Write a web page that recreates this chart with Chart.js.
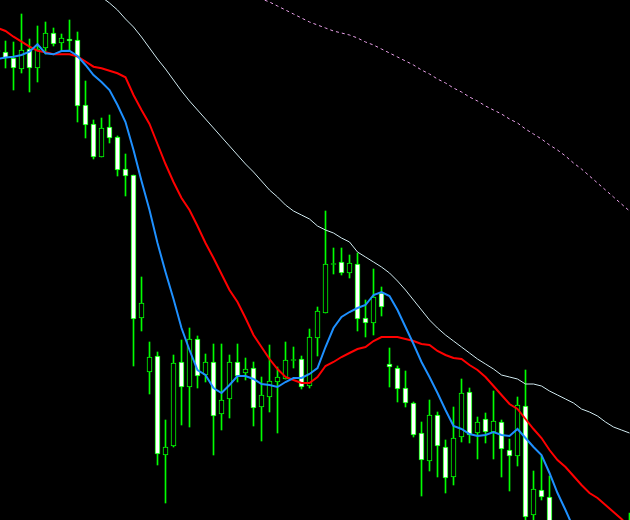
<!DOCTYPE html>
<html>
<head>
<meta charset="utf-8">
<style>
html,body{margin:0;padding:0;background:#000;overflow:hidden;}
#wrap{width:630px;height:520px;}
</style>
<script src="https://cdn.jsdelivr.net/npm/chart.js@4"></script>
</head>
<body>
<div id="wrap"><canvas id="c" width="630" height="520"></canvas></div>
<script>
// Price data (arbitrary price units, one entry per bar; first bar sits just off the left edge)
const openP  = [470,468,462,451,471,452,472,487,477,481,480,415,396,363,393,383,351,345,202,148,164,65,74,158,133,181,145,158,106,121,158,147,152,113,123,138,141,160,161,134,182,207,256,258,247,256,202,197,227,156,152,132,117,87,59,105,73,43,83,128,87,101,88,98,70,64,114,5,30,23,-10,-35,-28,-48,-40,-58,-50,-62,-45,-30];
const highP  = [478,479,478,506,481,494,498,492,486,500,488,439,400,402,405,384,366,345,243,178,168,100,165,180,192,184,166,176,176,165,176,162,158,143,175,153,178,173,164,191,213,309,272,272,265,267,220,251,233,172,154,149,118,98,120,108,80,113,141,132,103,107,129,100,81,123,150,49,64,44,-4,-20,-12,-30,-22,-36,-30,-40,-15,7];
const lowP   = [460,452,430,447,428,438,466,474,469,469,398,382,361,363,377,344,324,154,189,126,55,17,73,95,93,132,138,65,90,102,138,140,94,79,108,87,141,152,131,132,164,207,246,245,242,189,183,185,204,133,118,113,83,24,49,43,27,35,78,77,61,77,61,43,29,54,-8,-4,20,-20,-45,-60,-55,-75,-66,-80,-72,-85,-60,-48];
const closeP = [468,462,452,470,452,471,487,476,482,479,414,395,363,392,382,350,344,201,217,163,66,73,157,133,181,144,158,104,120,158,144,151,112,125,139,143,160,160,133,183,209,256,256,247,257,201,197,223,213,153,131,117,85,60,105,74,42,82,127,85,98,88,99,71,64,115,3,31,23,-8,-35,-28,-48,-40,-58,-50,-62,-45,-30,-12];

// Moving averages
const maBlue = [461,462.5,463.3,465,468.3,475.7,466.7,465.7,469,469.3,464,455,445,438,430,415,398,370,339,310,277,248,221,192,170,150,145,132,127,135,144,144,141,136,135,133,138,142,142,146,152,173,192,203,208,212,215,225,228,224,210,193,176,158,143,127,110,94,91,86,84,85,88,85,84,91,82,73,65,47,27,10,-8,-23,-35,-45,-53,-60,-66,-70];
const maRed  = [492,489,483.3,478.3,473.3,469.3,467.7,465.7,465.7,465.7,463.5,458.5,453.3,451.7,449.3,446.7,442.7,425,410,396,376,356,338,322,310,294,277,262,246,230,218,202,185,173,161,151,143,140,137,137,143,154,158,163,167,171,173,179,183,183,183,181,179,176,175,169,165,162,161,155,150,143,134,125,116,111,101,91,82,70,60,53,44,35,27,22,15,8,1,-7];
const maWhite = [null,null,null,null,null,null,null,null,null,null,null,537,530,523,517,510,501,493,483,472,461,451,440,429,419,410,401,392,383,374,365,356,348,339,330,323,315,309,305,301,294,290,287,282,278,268,263,258,253,247,239,230,220,210,200,192,185,179,173,167,161,156,151,145,143,141,136,136,134,129,125,121,117,111,108,104,98,93,90,87];
const maDotted = [null,null,null,null,null,null,null,null,null,null,null,null,null,null,null,null,null,null,null,null,null,null,null,null,null,null,null,null,null,null,null,null,524,521,518,514,510,506,502,498,495,492,489,487,485,482,478,475,471,467,463,459,455,450,446,441,437,432,428,423,419,414,410,406,401,397,391,386,381,375,370,364,357,351,344,337,330,323,316,309];

const bars = openP.map((_, i) => i);

const GREEN = '#00FF00';
const bodies = bars.map(i => {
  let a = openP[i], b = closeP[i];
  if (a === b) { a = a - 0.5; b = b + 0.5; }
  return {x: i, y: [a, b]};
});
const wicks = bars.map(i => ({x: i, y: [lowP[i], highP[i]]}));
const pts = arr => bars.map(i => ({x: i, y: arr[i]}));

new Chart(document.getElementById('c'), {
  type: 'bar',
  data: {
    datasets: [
      {
        type: 'line', data: pts(maBlue), borderColor: '#1E90FF', borderWidth: 2,
        pointRadius: 0, tension: 0, order: 0
      },
      {
        type: 'line', data: pts(maRed), borderColor: '#FF0000', borderWidth: 2,
        pointRadius: 0, tension: 0, order: 1
      },
      {
        type: 'line', data: pts(maWhite), borderColor: '#CFE8EE', borderWidth: 1,
        pointRadius: 0, tension: 0, order: 2
      },
      {
        type: 'line', data: pts(maDotted), borderColor: '#E8A0E8', borderWidth: 1,
        borderDash: [3, 3], pointRadius: 0, tension: 0, order: 2
      },
      {
        type: 'bar', data: bodies, grouped: false, barThickness: 5,
        borderWidth: 1, borderSkipped: false, borderColor: GREEN,
        backgroundColor: ctx => {
          const i = ctx.dataIndex;
          return closeP[i] < openP[i] ? '#FFFFFF' : '#000000';
        },
        order: 5
      },
      {
        type: 'bar', data: wicks, grouped: false, barThickness: 1,
        borderWidth: 0, backgroundColor: GREEN, order: 6
      }
    ]
  },
  options: {
    responsive: false,
    animation: false,
    events: [],
    layout: {padding: 0},
    plugins: {legend: {display: false}, tooltip: {enabled: false}},
    scales: {
      x: {type: 'linear', min: 0.3125, max: 79.0625, display: false, offset: false},
      y: {type: 'linear', min: 0, max: 520, display: false}
    }
  }
});
</script>
</body>
</html>
